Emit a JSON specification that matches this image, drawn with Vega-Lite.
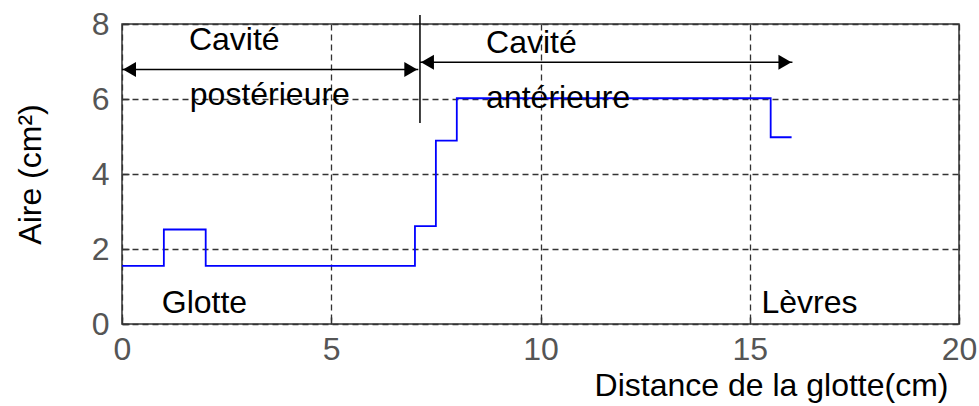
{
  "$schema": "https://vega.github.io/schema/vega-lite/v6.json",
  "width": 837,
  "height": 300,
  "autosize": "none",
  "padding": {"left": 122, "top": 24, "right": 20, "bottom": 82},
  "background": "white",
  "config": {
    "view": {"stroke": "#333333", "strokeWidth": 1.5},
    "font": "Liberation Sans",
    "axis": {
      "grid": true,
      "gridDash": [6, 4],
      "gridColor": "#333333",
      "gridWidth": 1.3,
      "gridOpacity": 1,
      "domain": false,
      "ticks": true,
      "tickSize": -7,
      "tickColor": "#333333",
      "tickWidth": 1.5,
      "labelFont": "Liberation Sans",
      "labelFontSize": 32,
      "labelColor": "#555555",
      "labelFlush": false,
      "titleFont": "Liberation Sans",
      "titleFontSize": 32,
      "titleFontWeight": "normal",
      "titleColor": "#000000"
    }
  },
  "datasets": {
    "area": [
      {"distance": 0, "aire": 1.55},
      {"distance": 1, "aire": 2.52},
      {"distance": 2, "aire": 1.55},
      {"distance": 7, "aire": 2.61},
      {"distance": 7.5, "aire": 4.89},
      {"distance": 8, "aire": 6.02},
      {"distance": 15.5, "aire": 4.98},
      {"distance": 16, "aire": 4.98}
    ],
    "arrows": [
      {"x1": 0, "x2": 7.08, "y": 6.79},
      {"x1": 7.12, "x2": 16.02, "y": 6.98}
    ],
    "divider": [
      {"x": 7.12, "y1": 5.36, "y2": 8.24}
    ],
    "labels": [
      {"x": 1.6, "y": 7.31, "label": "Cavité"},
      {"x": 1.62, "y": 5.84, "label": "postérieure"},
      {"x": 8.7, "y": 7.22, "label": "Cavité"},
      {"x": 8.7, "y": 5.75, "label": "antérieure"},
      {"x": 0.95, "y": 0.29, "label": "Glotte"},
      {"x": 15.28, "y": 0.29, "label": "Lèvres"}
    ]
  },
  "layer": [
    {
      "data": {"name": "area"},
      "mark": {"type": "line", "interpolate": "step-after", "color": "#0000ff", "strokeWidth": 1.8, "clip": false},
      "encoding": {
        "x": {
          "field": "distance",
          "type": "quantitative",
          "scale": {"domain": [0, 20], "nice": false, "zero": false},
          "axis": {
            "values": [0, 5, 10, 15, 20],
            "labelPadding": 17,
            "title": "Distance de la glotte(cm)",
            "titleAnchor": "end",
            "titleAlign": "right",
            "titleX": 826,
            "titleY": 71,
            "titleBaseline": "alphabetic"
          }
        },
        "y": {
          "field": "aire",
          "type": "quantitative",
          "scale": {"domain": [0, 8], "nice": false},
          "axis": {
            "values": [0, 2, 4, 6, 8],
            "labelPadding": 20,
            "title": "Aire (cm²)",
            "titleAngle": -90,
            "titleAlign": "center",
            "titleBaseline": "alphabetic",
            "titleX": -82,
            "titleY": 150
          }
        }
      }
    },
    {
      "data": {"name": "divider"},
      "mark": {"type": "rule", "color": "#000000", "strokeWidth": 1.5, "clip": false},
      "encoding": {
        "x": {"field": "x", "type": "quantitative"},
        "y": {"field": "y1", "type": "quantitative"},
        "y2": {"field": "y2"}
      }
    },
    {
      "data": {"name": "arrows"},
      "mark": {"type": "rule", "color": "#000000", "strokeWidth": 1.5},
      "encoding": {
        "x": {"field": "x1", "type": "quantitative"},
        "x2": {"field": "x2"},
        "y": {"field": "y", "type": "quantitative"}
      }
    },
    {
      "data": {"name": "arrows"},
      "mark": {"type": "point", "shape": "triangle-left", "filled": true, "color": "#000000", "opacity": 1, "size": 225, "xOffset": 7.5},
      "encoding": {
        "x": {"field": "x1", "type": "quantitative"},
        "y": {"field": "y", "type": "quantitative"}
      }
    },
    {
      "data": {"name": "arrows"},
      "mark": {"type": "point", "shape": "triangle-right", "filled": true, "color": "#000000", "opacity": 1, "size": 225, "xOffset": -7.5},
      "encoding": {
        "x": {"field": "x2", "type": "quantitative"},
        "y": {"field": "y", "type": "quantitative"}
      }
    },
    {
      "data": {"name": "labels"},
      "mark": {"type": "text", "align": "left", "baseline": "alphabetic", "font": "Liberation Sans", "fontSize": 32, "color": "#000000"},
      "encoding": {
        "x": {"field": "x", "type": "quantitative"},
        "y": {"field": "y", "type": "quantitative"},
        "text": {"field": "label"}
      }
    }
  ]
}
